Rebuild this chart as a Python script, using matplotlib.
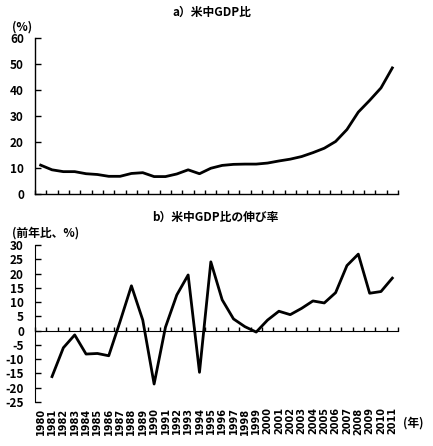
import matplotlib
matplotlib.use("Agg")
import matplotlib.pyplot as plt
import numpy as np

plt.rcParams['font.family'] = ['Noto Sans CJK JP', 'DejaVu Sans']
plt.rcParams['font.weight'] = 'bold'
plt.rcParams['axes.unicode_minus'] = False

years = [str(y) for y in range(1980, 2012)]
ratio = [11.1, 9.3, 8.6, 8.6, 7.8, 7.5, 6.8, 6.8, 7.9, 8.2, 6.7, 6.7, 7.7, 9.3, 7.8,
         9.9, 11.0, 11.4, 11.5, 11.5, 11.9, 12.7, 13.4, 14.4, 15.9, 17.6, 20.2, 24.8,
         31.5, 36.0, 40.8, 48.5]
growth = [None, -16.1, -6.0, -1.5, -8.2, -8.0, -8.8, 3.2, 15.7, 3.7, -18.7, 1.2, 12.5,
          19.5, -14.6, 24.1, 10.8, 4.1, 1.4, -0.5, 3.7, 6.8, 5.6, 7.8, 10.4, 9.7, 13.3,
          22.8, 26.8, 13.1, 13.7, 18.4]

W, H = 433, 446
fig = plt.figure(figsize=(W / 100, H / 100), dpi=100)

def rect(l, t, r, b):
    return [l / W, 1 - b / H, (r - l) / W, (b - t) / H]

x = np.arange(len(years))
fs = 8.5

# Top chart
ax1 = fig.add_axes(rect(35, 38, 398, 194))
ax1.plot(x, ratio, color='black', lw=2)
ax1.set_xlim(-0.5, len(years) - 0.5)
ax1.set_ylim(0, 60)
ax1.set_yticks(range(0, 61, 10))
ax1.set_xticks(np.arange(-0.5, len(years), 1))
ax1.set_xticklabels([])
ax1.tick_params(direction='in', length=4, width=1, labelsize=fs)
ax1.tick_params(axis='y', pad=8)
ax1.tick_params(axis='x', length=3)
for s in ['top', 'right']:
    ax1.spines[s].set_visible(False)
for s in ['left', 'bottom']:
    ax1.spines[s].set_linewidth(1)
for lab in ax1.get_yticklabels():
    lab.set_fontweight('bold')
fig.text(212 / W, 1 - 12 / H, 'a）米中GDP比', ha='center', va='center', fontsize=fs, fontweight='bold')
fig.text(12 / W, 1 - 27 / H, '(%)', ha='left', va='center', fontsize=fs, fontweight='bold')

# Bottom chart
ax2 = fig.add_axes(rect(35, 245, 398, 402))
gx = [i for i, v in enumerate(growth) if v is not None]
gy = [v for v in growth if v is not None]
ax2.plot(gx, gy, color='black', lw=2)
ax2.set_xlim(-0.5, len(years) - 0.5)
ax2.set_ylim(-25, 30)
ax2.set_yticks(range(-25, 31, 5))
ax2.spines['bottom'].set_position(('data', 0))
for s in ['top', 'right']:
    ax2.spines[s].set_visible(False)
ax2.set_xticks(np.arange(-0.5, len(years), 1))
ax2.set_xticklabels([])
ax2.tick_params(axis='x', which='major', direction='in', length=3, width=1)
ax2.tick_params(axis='y', direction='in', length=4, width=1, labelsize=fs, pad=8)
for lab in ax2.get_yticklabels():
    lab.set_fontweight('bold')
trans = ax2.get_xaxis_transform()
for i, yr in enumerate(years):
    ax2.text(i, -0.035, yr, transform=trans, rotation=90, ha='center', va='top',
             fontsize=7, fontweight='bold', family='DejaVu Sans')
fig.text(215 / W, 1 - 217 / H, 'b）米中GDP比の伸び率', ha='center', va='center', fontsize=fs, fontweight='bold')
fig.text(12 / W, 1 - 233 / H, '(前年比、%)', ha='left', va='center', fontsize=fs, fontweight='bold')
fig.text(403 / W, 1 - 423 / H, '(年)', ha='left', va='center', fontsize=fs, fontweight='bold')

fig.savefig('out.png', dpi=100)
